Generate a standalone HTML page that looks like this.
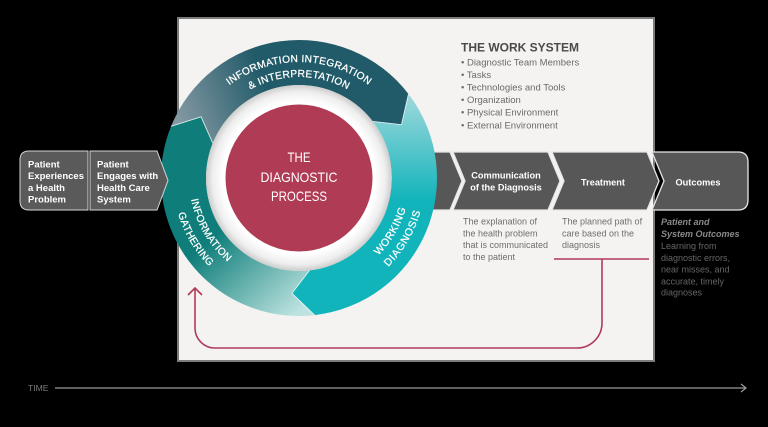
<!DOCTYPE html>
<html>
<head>
<meta charset="utf-8">
<style>
  html,body{margin:0;padding:0;background:#000;}
  body{width:768px;height:427px;overflow:hidden;}
  svg{display:block;}
  text{font-family:"Liberation Sans",sans-serif;}
</style>
</head>
<body>
<svg width="768" height="427" viewBox="0 0 768 427" xmlns="http://www.w3.org/2000/svg">
  <defs>
    <linearGradient id="gTeal" gradientUnits="userSpaceOnUse" x1="215" y1="235" x2="292" y2="318">
      <stop offset="0" stop-color="#0f7e7a"/>
      <stop offset="1" stop-color="#bde3e0"/>
    </linearGradient>
    <linearGradient id="gDark" gradientUnits="userSpaceOnUse" x1="175" y1="115" x2="265" y2="80">
      <stop offset="0" stop-color="#8499a4"/>
      <stop offset="1" stop-color="#215a68"/>
    </linearGradient>
    <linearGradient id="gCyan" gradientUnits="userSpaceOnUse" x1="0" y1="100" x2="0" y2="200">
      <stop offset="0" stop-color="#98d7db"/>
      <stop offset="1" stop-color="#12b4bb"/>
    </linearGradient>
    <radialGradient id="gWhite" gradientUnits="userSpaceOnUse" cx="299" cy="178" r="93">
      <stop offset="0" stop-color="#ffffff"/>
      <stop offset="0.82" stop-color="#ffffff"/>
      <stop offset="0.93" stop-color="#eeeeee"/>
      <stop offset="1" stop-color="#cdcdcd"/>
    </radialGradient>
    <path id="tTop1" d="M 184.76 157.86 A 116 116 0 0 1 413.24 157.86"/>
    <path id="tTop2" d="M 199.53 160.46 A 101 101 0 0 1 398.47 160.46"/>
    <path id="tLeft1" d="M 227.56 94.35 A 110 110 0 0 0 337.52 281.03"/>
    <path id="tLeft2" d="M 217.17 82.19 A 126 126 0 0 0 343.13 296.02"/>
    <path id="tRight1" d="M 261.04 282.31 A 111 111 0 0 0 370.35 92.97"/>
    <path id="tRight2" d="M 255.91 296.40 A 126 126 0 0 0 379.99 81.48"/>
  </defs>

  <rect x="0" y="0" width="768" height="427" fill="#000"/>

  <rect x="178" y="18" width="476" height="343" fill="#f4f3f1" stroke="#7c7c7c" stroke-width="2"/>

  <text x="461" y="51.5" font-size="12" font-weight="bold" fill="#4a4a4a">THE WORK SYSTEM</text>
  <g font-size="9.5" fill="#6a6a6a">
    <text x="461" y="65.3">• Diagnostic Team Members</text>
    <text x="461" y="77.8">• Tasks</text>
    <text x="461" y="90.4">• Technologies and Tools</text>
    <text x="461" y="103">• Organization</text>
    <text x="461" y="115.6">• Physical Environment</text>
    <text x="461" y="128.3">• External Environment</text>
  </g>

  <g fill="#575757" stroke="#e6e6e6" stroke-width="1.3" stroke-linejoin="miter">
    <path d="M 380 152 H 450 L 462 181 L 450 210 H 380 Z"/>
    <path d="M 453 152 H 548 L 560 181 L 548 210 H 453 L 465 181 Z"/>
    <path d="M 552 152 H 647 L 659 181 L 647 210 H 552 L 564 181 Z"/>
    <path d="M 652 152 H 738 Q 748 152 748 162 V 200 Q 748 210 738 210 H 652 L 664 181 Z"/>
  </g>
  <g font-size="9.2" font-weight="bold" fill="#ffffff" text-anchor="middle">
    <text x="506" y="178.5">Communication</text>
    <text x="506" y="190.5">of the Diagnosis</text>
    <text x="603" y="185.5">Treatment</text>
    <text x="698" y="185.5">Outcomes</text>
  </g>

  <g font-size="9" fill="#6e6e6e">
    <text x="463" y="224.5">The explanation of</text>
    <text x="463" y="236.3">the health problem</text>
    <text x="463" y="248.1">that is communicated</text>
    <text x="463" y="259.9">to the patient</text>
    <text x="562" y="224.5">The planned path of</text>
    <text x="562" y="236.3">care based on the</text>
    <text x="562" y="248.1">diagnosis</text>
  </g>
  <g font-size="9">
    <text x="661" y="225" fill="#8a8a8a" font-style="italic" font-weight="bold">Patient and</text>
    <text x="661" y="237.2" fill="#8a8a8a" font-style="italic" font-weight="bold">System Outcomes</text>
    <text x="661" y="249" fill="#666">Learning from</text>
    <text x="661" y="261" fill="#666">diagnostic errors,</text>
    <text x="661" y="272.3" fill="#666">near misses, and</text>
    <text x="661" y="284.3" fill="#666">accurate, timely</text>
    <text x="661" y="295.6" fill="#666">diagnoses</text>
  </g>

  <g fill="none" stroke="#b0395a" stroke-width="1.6">
    <path d="M 554 259 H 649"/>
    <path d="M 602 259 V 323 A 25 25 0 0 1 577 348 H 215 A 20 20 0 0 1 195 328 V 288"/>
    <path d="M 188 295 L 195 288 L 202 295"/>
  </g>

  <path d="M 314.62 315.11 A 138 138 0 0 1 171.05 126.30 L 201.05 116.79 L 212.77 143.16 A 93 93 0 0 0 309.53 270.40 L 291.95 293.28 Z" fill="url(#gTeal)"/>
  <path d="M 171.05 126.30 A 138 138 0 0 1 408.48 93.99 L 401.45 124.67 L 372.78 121.39 A 93 93 0 0 0 212.77 143.16 L 201.05 116.79 Z" fill="url(#gDark)"/>
  <path d="M 408.48 93.99 A 138 138 0 0 1 314.62 315.11 L 291.95 293.28 L 309.53 270.40 A 93 93 0 0 0 372.78 121.39 L 401.45 124.67 Z" fill="url(#gCyan)"/>
  <g fill="none" stroke="#ffffff" stroke-opacity="0.8" stroke-width="0.9">
    <path d="M 171.05 126.30 L 201.05 116.79 L 212.77 143.16"/>
    <path d="M 408.48 93.99 L 401.45 124.67 L 372.78 121.39"/>
    <path d="M 314.62 315.11 L 291.95 293.28 L 309.53 270.40"/>
  </g>

  <circle cx="299" cy="178" r="93" fill="url(#gWhite)"/>
  <circle cx="299" cy="178" r="73.5" fill="#af3b55"/>
  <g font-size="14" fill="#ffffff" text-anchor="middle">
    <text x="299" y="162" textLength="23" lengthAdjust="spacingAndGlyphs">THE</text>
    <text x="299" y="182" textLength="77" lengthAdjust="spacingAndGlyphs">DIAGNOSTIC</text>
    <text x="299" y="201" textLength="56" lengthAdjust="spacingAndGlyphs">PROCESS</text>
  </g>

  <g font-size="10.2" fill="#ffffff" stroke="#ffffff" stroke-width="0.25" letter-spacing="0.3">
    <text text-anchor="middle"><textPath href="#tTop1" startOffset="50%">INFORMATION INTEGRATION</textPath></text>
    <text text-anchor="middle"><textPath href="#tTop2" startOffset="50%">&amp; INTERPRETATION</textPath></text>
    <text text-anchor="middle"><textPath href="#tLeft1" startOffset="50%">INFORMATION</textPath></text>
    <text text-anchor="middle"><textPath href="#tLeft2" startOffset="50%">GATHERING</textPath></text>
    <text text-anchor="middle" font-size="10.5" letter-spacing="0.6"><textPath href="#tRight1" startOffset="50%">WORKING</textPath></text>
    <text text-anchor="middle" font-size="10.5" letter-spacing="0.8"><textPath href="#tRight2" startOffset="50%">DIAGNOSIS</textPath></text>
  </g>

  <g fill="#5a5a5a" stroke="#d6d6d6" stroke-width="1">
    <path d="M 29 151 H 88 V 210 H 29 Q 20 210 20 201 V 160 Q 20 151 29 151 Z"/>
    <path d="M 90 151 H 157 L 168 180.5 L 157 210 H 90 Z"/>
  </g>
  <g font-size="9.5" font-weight="bold" fill="#ffffff">
    <text x="28" y="167.5">Patient</text>
    <text x="28" y="179.2">Experiences</text>
    <text x="28" y="190.9">a Health</text>
    <text x="28" y="202.6">Problem</text>
    <text x="97" y="167.5">Patient</text>
    <text x="97" y="179.2">Engages with</text>
    <text x="97" y="190.9">Health Care</text>
    <text x="97" y="202.6">System</text>
  </g>

  <text x="28" y="391.2" font-size="8.6" fill="#7a7a7a">TIME</text>
  <g fill="none" stroke="#9a9a9a" stroke-width="1.2">
    <path d="M 55 388 H 745"/>
    <path d="M 741 384 L 746 388 L 741 392"/>
  </g>
</svg>
</body>
</html>
